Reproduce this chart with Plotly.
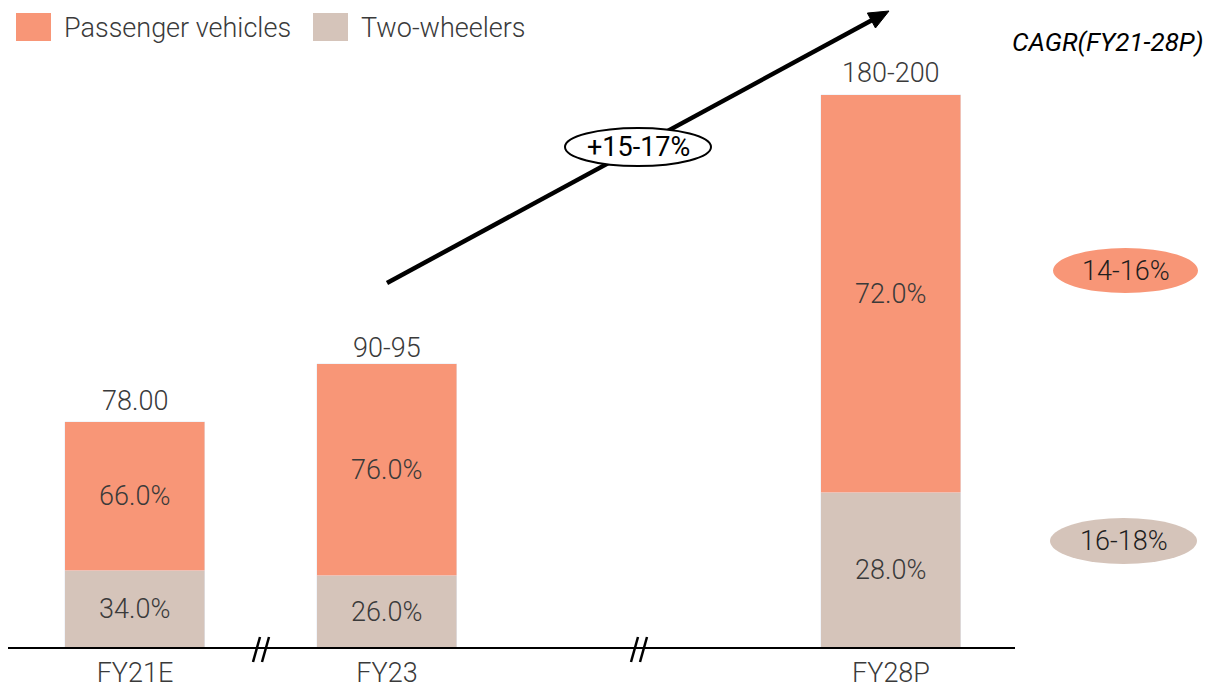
import plotly.graph_objects as go

# ---- data ----
categories = ["FY21E", "FY23", "FY28P"]
x_pos = [0, 1, 3]
totals = [78, 96, 191]
total_labels = ["78.00", "90-95", "180-200"]
pv_share = [66.0, 76.0, 72.0]
tw_share = [34.0, 26.0, 28.0]
series_names = ["Passenger vehicles", "Two-wheelers"]
cagr_labels = ["14-16%", "16-18%"]
overall_cagr = "+15-17%"
cagr_title = "CAGR(FY21-28P)"

PV_COLOR = "#F89677"
TW_COLOR = "#D5C4BA"
TXT = "#3a3a3a"
FONT = "Roboto"
FS = 27

# page has an 8px body margin; figure size chosen to fill the 1213x689 window
OFF = 8
W, H = 1213 - OFF, 689 - OFF
X0PX, XSCALE = 135.0, 252.0          # reference-pixel position of x=0, px per unit
BASE_PX, YSCALE = 648.0, 2.897       # reference-pixel baseline, px per value unit
PLOT_H = BASE_PX - OFF               # plot area height in figure px


def X(px):
    return (px - X0PX) / XSCALE


def Y(py):
    return (BASE_PX - py) / YSCALE


def PX(px):
    return (px - OFF) / W


def PY(py):
    return (BASE_PX - py) / PLOT_H


tw_vals = [t * s / 100 for t, s in zip(totals, tw_share)]
pv_vals = [t * s / 100 for t, s in zip(totals, pv_share)]

fig = go.Figure()
fig.add_trace(go.Bar(
    x=x_pos, y=tw_vals, name=series_names[1], marker_color=TW_COLOR,
    width=140 / XSCALE, text=[f"{v:.1f}%" for v in tw_share],
    textposition="inside", insidetextanchor="middle",
    textfont=dict(family=FONT, size=FS, color=TXT, weight=300),
    showlegend=False, hoverinfo="skip",
))
fig.add_trace(go.Bar(
    x=x_pos, y=pv_vals, name=series_names[0], marker_color=PV_COLOR,
    width=140 / XSCALE, text=[f"{v:.1f}%" for v in pv_share],
    textposition="inside", insidetextanchor="middle",
    textfont=dict(family=FONT, size=FS, color=TXT, weight=300),
    showlegend=False, hoverinfo="skip",
))

shapes = []
annotations = []

# baseline
shapes.append(dict(type="line", xref="paper", yref="paper",
                   x0=PX(8), x1=PX(1015), y0=0, y1=0,
                   line=dict(color="black", width=2), layer="above"))
# axis breaks "//"
for bx in [(x_pos[0] + x_pos[1]) / 2, (x_pos[1] + x_pos[2]) / 2]:
    bpx = X0PX + bx * XSCALE
    for off in (-4.5, 4.5):
        shapes.append(dict(type="line", xref="paper", yref="paper",
                           x0=PX(bpx + off - 3.5), y0=PY(662),
                           x1=PX(bpx + off + 3.5), y1=PY(637),
                           line=dict(color="black", width=2.5), layer="above"))

# total labels
for xp, t, lab in zip(x_pos, totals, total_labels):
    annotations.append(dict(x=xp, y=t, text=lab, showarrow=False,
                            yanchor="middle", yshift=21.5,
                            font=dict(family=FONT, size=FS, color=TXT, weight=300)))

# big arrow
sx, sy, tx, ty = 387.0, 283.0, 889.0, 11.0
dx, dy = tx - sx, ty - sy
ln = (dx * dx + dy * dy) ** 0.5
ux, uy = dx / ln, dy / ln
nx, ny = -uy, ux
hl, hw = 20.0, 8.5
bxp, byp = tx - hl * ux, ty - hl * uy
shapes.append(dict(type="line", x0=X(sx), y0=Y(sy), x1=X(bxp + 2 * ux), y1=Y(byp + 2 * uy),
                   line=dict(color="black", width=4.5), layer="above"))
shapes.append(dict(type="path",
                   path=f"M {X(tx)},{Y(ty)} L {X(bxp + hw * nx)},{Y(byp + hw * ny)} "
                        f"L {X(bxp - hw * nx)},{Y(byp - hw * ny)} Z",
                   fillcolor="black", line=dict(color="black", width=1), layer="above"))
# overall CAGR ellipse
shapes.append(dict(type="circle", x0=X(565), x1=X(711), y0=Y(166), y1=Y(128),
                   fillcolor="white", line=dict(color="black", width=2), layer="above"))
annotations.append(dict(x=X(638), y=Y(147), text=overall_cagr, showarrow=False,
                        font=dict(family=FONT, size=FS, color="black", weight=400)))

# segment CAGR ellipses
shapes.append(dict(type="circle", x0=X(1053), x1=X(1198), y0=Y(293), y1=Y(248),
                   fillcolor=PV_COLOR, line=dict(width=0), layer="above"))
annotations.append(dict(x=X(1125.5), y=Y(270.5), text=cagr_labels[0], showarrow=False,
                        font=dict(family=FONT, size=FS, color="#1e1e1e", weight=300)))
shapes.append(dict(type="circle", x0=X(1050), x1=X(1197), y0=Y(564), y1=Y(518),
                   fillcolor=TW_COLOR, line=dict(width=0), layer="above"))
annotations.append(dict(x=X(1123.5), y=Y(541), text=cagr_labels[1], showarrow=False,
                        font=dict(family=FONT, size=FS, color="#1e1e1e", weight=300)))

# CAGR title
annotations.append(dict(x=X(1206), y=Y(42), text=f"<i>{cagr_title}</i>", showarrow=False,
                        xanchor="right",
                        font=dict(family=FONT, size=26, color="black", weight=400)))

# manual legend
leg = [(16, series_names[0], PV_COLOR), (313, series_names[1], TW_COLOR)]
for lx, name, col in leg:
    shapes.append(dict(type="rect", x0=X(lx), x1=X(lx + 35), y0=Y(41), y1=Y(13),
                       fillcolor=col, line=dict(width=0)))
    annotations.append(dict(x=X(lx + 46), y=Y(28), text=name, showarrow=False,
                            xanchor="left",
                            font=dict(family=FONT, size=FS, color=TXT, weight=300)))

fig.update_layout(
    width=W, height=H, barmode="stack", bargap=0,
    margin=dict(l=0, r=0, t=0, b=H - PLOT_H, autoexpand=False),
    plot_bgcolor="white", paper_bgcolor="white",
    shapes=shapes, annotations=annotations,
    xaxis=dict(range=[X(OFF), X(OFF + W)], tickvals=x_pos, ticktext=categories,
               showgrid=False, zeroline=False, showline=False, ticks="",
               ticklabelstandoff=6, automargin=False,
               tickfont=dict(family=FONT, size=FS, color=TXT, weight=300)),
    yaxis=dict(range=[0, Y(OFF)], visible=False, showgrid=False, zeroline=False,
               automargin=False),
)

fig.write_html("out.html")
